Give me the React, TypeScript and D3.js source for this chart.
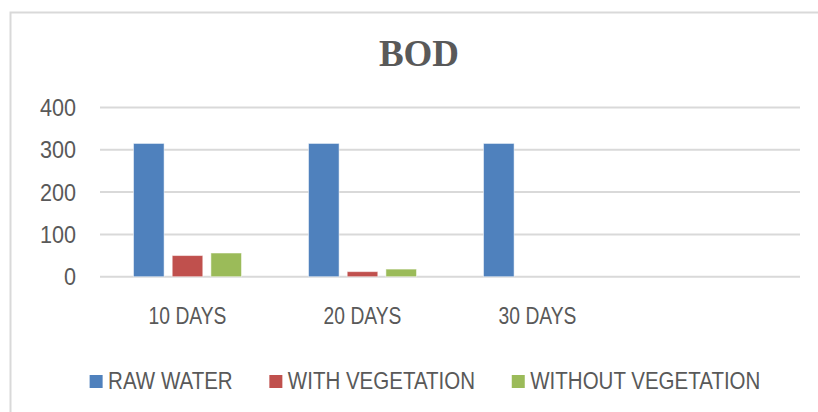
import React, { useEffect, useRef } from "react";
import * as d3 from "d3";

const categories = ["10 DAYS", "20 DAYS", "30 DAYS", ""];
const seriesNames = ["RAW WATER", "WITH VEGETATION", "WITHOUT VEGETATION"];
const rawWater = [315, 315, 315, null];
const withVegetation = [50, 12, 0, null];
const withoutVegetation = [56, 18, 0, null];
const yTicks = [0, 100, 200, 300, 400];
const colors = ["#4f81bd", "#c0504d", "#9bbb59"];

const W = 818;
const H = 412;
const FONT = "'Liberation Sans', Arial, sans-serif";
const TEXT = "#595959";

export default function App() {
  const ref = useRef<SVGSVGElement | null>(null);

  useEffect(() => {
    const svg = d3.select(ref.current);
    svg.selectAll("*").remove();

    const values = [rawWater, withVegetation, withoutVegetation];

    svg.append("rect").attr("x", 0).attr("y", 0).attr("width", W).attr("height", H).attr("fill", "#fff");
    svg.append("rect")
      .attr("x", 10.5).attr("y", 12.5).attr("width", W + 20).attr("height", H + 20)
      .attr("fill", "none").attr("stroke", "#d9d9d9").attr("stroke-width", 2);

    svg.append("text")
      .attr("x", 419).attr("y", 66)
      .attr("text-anchor", "middle")
      .attr("font-family", "'Liberation Serif', 'Times New Roman', serif")
      .attr("font-weight", "bold")
      .attr("font-size", 37)
      .attr("fill", TEXT)
      .text("BOD");

    const x0 = d3.scaleBand<string>().domain(categories).range([100, 800]).paddingInner(0.383).paddingOuter(0.1915);
    const x1 = d3.scaleBand<string>().domain(seriesNames).range([0, x0.bandwidth()]).paddingInner(0.21);
    const y = d3.scaleLinear().domain([0, 400]).range([276.7, 107.5]);

    svg.append("g").selectAll("line").data(yTicks).join("line")
      .attr("x1", 100).attr("x2", 800)
      .attr("y1", (d) => y(d)).attr("y2", (d) => y(d))
      .attr("stroke", "#d9d9d9").attr("stroke-width", 2);

    const condensedText = (
      parent: d3.Selection<any, any, any, any>,
      tx: number,
      ty: number,
      anchor: string,
      str: string,
      sq: number
    ) =>
      parent.append("text")
        .attr("transform", `translate(${tx},${ty}) scale(${sq},1)`)
        .attr("text-anchor", anchor)
        .attr("font-family", FONT).attr("font-size", 23.5).attr("fill", TEXT)
        .text(str);

    const yl = svg.append("g");
    yTicks.forEach((t) => condensedText(yl, 76, y(t) + 8.5, "end", String(t), 0.92));

    seriesNames.forEach((s, si) => {
      svg.append("g").selectAll("rect")
        .data(categories.map((c, ci) => ({ c, v: values[si][ci] })).filter((d) => d.v !== null && (d.v as number) > 0))
        .join("rect")
        .attr("x", (d) => (x0(d.c) as number) + (x1(s) as number))
        .attr("width", x1.bandwidth())
        .attr("y", (d) => y(d.v as number))
        .attr("height", (d) => y(0) - y(d.v as number))
        .attr("fill", colors[si])
        .attr("stroke", "#ffffff").attr("stroke-opacity", 0.5).attr("stroke-width", 1);
    });

    const xl = svg.append("g");
    categories.forEach((c) => condensedText(xl, (x0(c) as number) + x0.bandwidth() / 2, 323.5, "middle", c, 0.82));

    const lg = svg.append("g");
    const marker = 13;
    const gapMT = 5.5;
    const gapItem = 36.7;
    const LSQ = 0.873;
    const items = seriesNames.map((s, i) => {
      const g = lg.append("g");
      g.append("rect").attr("x", 0).attr("y", -13.5).attr("width", marker).attr("height", marker).attr("fill", colors[i]);
      const t = condensedText(g, marker + gapMT, 0, "start", s, LSQ);
      const tw = (t.node() as SVGTextElement).getComputedTextLength() * LSQ;
      return { g, w: marker + gapMT + tw };
    });
    const total = d3.sum(items, (d) => d.w) + gapItem * (items.length - 1);
    let cx = 425 - total / 2;
    items.forEach((it) => {
      it.g.attr("transform", `translate(${cx},388.5)`);
      cx += it.w + gapItem;
    });
  }, []);

  return (
    <svg
      ref={ref}
      width={W}
      height={H}
      style={{ position: "absolute", left: 0, top: 0, display: "block" }}
    />
  );
}
